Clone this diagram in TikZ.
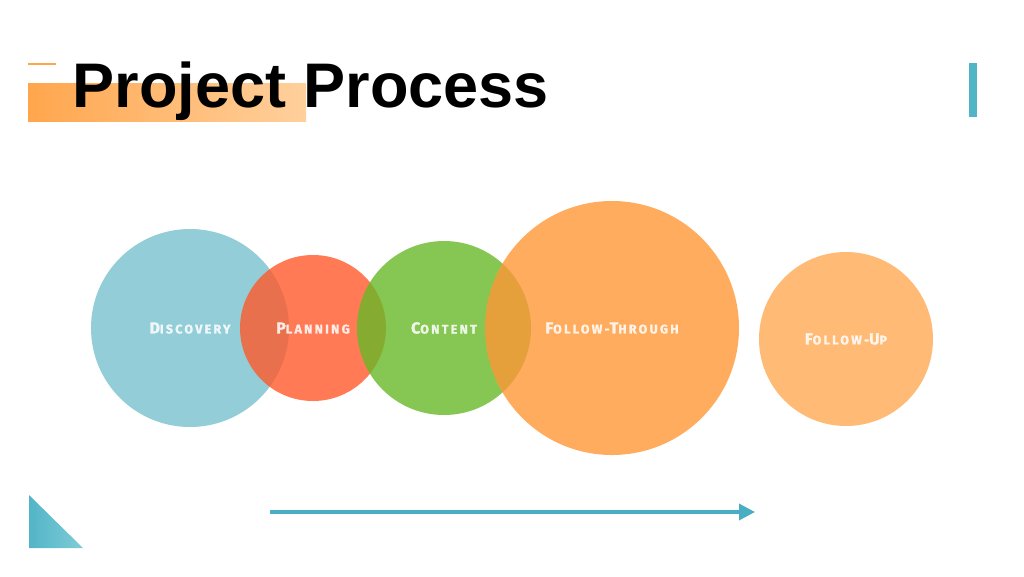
\documentclass[tikz,border=0pt]{standalone}
\usepackage{fontspec}
\newfontfamily\titlefont{Liberation Sans}
\newfontfamily\stagefont[LetterSpace=18, BoldFeatures={FakeBold=1.2}]{Fira Sans}
\usetikzlibrary{arrows.meta}

\definecolor{barleft}{RGB}{255,166,77}
\definecolor{barright}{RGB}{255,208,156}
\definecolor{accentteal}{RGB}{82,181,199}
\definecolor{triteallight}{RGB}{128,203,215}
\definecolor{arrowteal}{RGB}{74,173,193}
\definecolor{discoveryblue}{RGB}{119,193,206}
\definecolor{planningred}{RGB}{255,89,42}
\definecolor{contentgreen}{RGB}{104,185,41}
\definecolor{throughorange}{RGB}{255,151,54}
\definecolor{uporange}{RGB}{255,169,83}

\newcommand{\stagename}[2]{{\fontsize{16}{16}\selectfont #1}{\fontsize{12.5}{12.5}\selectfont #2}}

\tikzset{
  stage/.style={circle, inner sep=0pt, fill opacity=0.8, text opacity=0.85,
    text=white, font=\stagefont\bfseries},
}

\begin{document}
\begin{tikzpicture}[x=1pt, y=-1pt, >=Triangle]

        \useasboundingbox (0,0) rectangle (1024,576);

        % title with its bar
        \shade[left color=barleft, right color=barright] (28,83) rectangle (306,121);
        \fill[barleft] (28,63) rectangle (56,65);
        \node[anchor=base west, inner sep=0pt,
          font=\titlefont\bfseries\fontsize{63}{63}\selectfont] (title) at (72.5,107) {Project Process};

        \fill[accentteal] (969,63) rectangle (977,117);
        \shade[left color=accentteal, right color=triteallight] (29,495) -- (29,548) -- (83,548) -- cycle;

        % stages
        \node[stage, fill=discoveryblue, minimum size=198pt] (discovery) at (190,328) {\stagename{D}{ISCOVERY}};
        \node[stage, fill=planningred, minimum size=146pt] (planning) at (313,328) {\stagename{P}{LANNING}};
        \node[stage, fill=contentgreen, minimum size=174pt] (content) at (444,328) {\stagename{C}{ONTENT}};
        \node[stage, fill=throughorange, minimum size=254pt] (followthrough) at (612,328) {\stagename{F}{OLLOW-}\stagename{T}{HROUGH}};
        \node[stage, fill=uporange, minimum size=174pt] (followup) at (846,339) {\stagename{F}{OLLOW-}\stagename{U}{P}};

        \coordinate (arrowstart) at (270,512);
        \coordinate (arrowend) at (755,512);
        \draw[-{Triangle[length=16pt, width=16pt]}, line width=3.5pt, arrowteal] (arrowstart) -- (arrowend);
      \end{tikzpicture}
\end{document}
